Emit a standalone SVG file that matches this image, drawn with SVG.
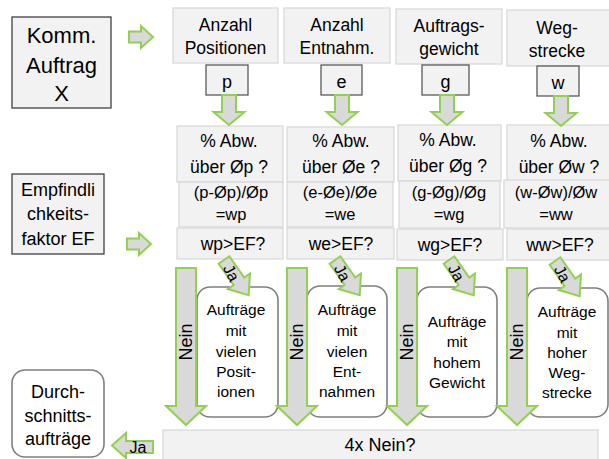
<svg xmlns="http://www.w3.org/2000/svg" width="609" height="459" viewBox="0 0 609 459">
<defs>
<style>
text{font-family:"Liberation Sans",Arial,sans-serif;fill:#000;text-anchor:middle}
.dark{fill:#f2f2f2;stroke:#404040;stroke-width:1.3}
.mid{fill:#f2f2f2;stroke:#595959;stroke-width:1.3}
.lite{fill:#f2f2f2;stroke:#d9d9d9;stroke-width:1.3}
.rnd{fill:#fff;stroke:#7f7f7f;stroke-width:1.6}
.arr{fill:#d9d9d9;stroke:#92d050;stroke-width:2;stroke-linejoin:miter}
.t17{font-size:17.5px}
.t16f{font-size:16.5px}
.t15{font-size:15.5px}
.t18{font-size:18px}
.t22{font-size:22px}
.t16{font-size:16px}
</style>
<path id="down" d="M-7,0 L7,0 L7,17 L15.5,17 L0,30 L-15.5,17 L-7,17 Z"/>
<path id="right" d="M0,-5.5 L12,-5.5 L12,-11 L24,0 L12,11 L12,5.5 L0,5.5 Z"/>
<path id="nein" d="M-10,0 L10,0 L10,138 L20,138 L0,157 L-20,138 L-10,138 Z"/>
<path id="ja" d="M0,-6.5 L26,-6.5 L26,-13.5 L43,0 L26,13.5 L26,6.5 L0,6.5 Z"/>
</defs>

<g id="komm">
<rect class="dark" x="12" y="17" width="99" height="91"/>
<text class="t22" x="61.5" y="43">Komm.</text>
<text class="t22" x="61.5" y="73">Auftrag</text>
<text class="t22" x="61.5" y="101">X</text>
</g>

<g id="empf">
<rect class="dark" x="12" y="174" width="92" height="80"/>
<text class="t18" x="58" y="196">Empfindli</text>
<text class="t18" x="58" y="220">chkeits-</text>
<text class="t18" x="58" y="245">faktor EF</text>
</g>

<g id="h-p">
<rect class="lite" x="173" y="8" width="105" height="55"/>
<text class="t17" x="225.5" y="31">Anzahl</text>
<text class="t17" x="225.5" y="54">Positionen</text>
</g>
<g id="h-e">
<rect class="lite" x="284" y="8" width="106" height="55"/>
<text class="t17" x="337" y="31">Anzahl</text>
<text class="t17" x="337" y="54">Entnahm.</text>
</g>
<g id="h-g">
<rect class="lite" x="396" y="9" width="106" height="55"/>
<text class="t17" x="449" y="32">Auftrags-</text>
<text class="t17" x="449" y="55">gewicht</text>
</g>
<g id="h-w">
<rect class="lite" x="507" y="10" width="106" height="56"/>
<text class="t17" x="557" y="34">Weg-</text>
<text class="t17" x="557" y="57">strecke</text>
</g>

<g id="v-p"><rect class="mid" x="206" y="65" width="42" height="30"/><text class="t18" x="227" y="88">p</text></g>
<g id="v-e"><rect class="mid" x="321" y="65" width="41" height="30"/><text class="t18" x="341.5" y="88">e</text></g>
<g id="v-g"><rect class="mid" x="422" y="65" width="47" height="30"/><text class="t18" x="445.5" y="88">g</text></g>
<g id="v-w"><rect class="mid" x="537" y="66" width="42" height="30"/><text class="t18" x="558" y="89">w</text></g>

<g id="abw-p"><rect class="lite" x="177" y="126" width="106" height="56"/><text class="t17" x="229" y="147">% Abw.</text><text class="t17" x="229" y="173">über Øp ?</text></g>
<g id="abw-e"><rect class="lite" x="287" y="127" width="107" height="55"/><text class="t17" x="341" y="147">% Abw.</text><text class="t17" x="341" y="173">über Øe ?</text></g>
<g id="abw-g"><rect class="lite" x="398" y="125" width="103" height="56"/><text class="t17" x="448" y="146">% Abw.</text><text class="t17" x="448" y="172">über Øg ?</text></g>
<g id="abw-w"><rect class="lite" x="507" y="125" width="106" height="57"/><text class="t17" x="559" y="147">% Abw.</text><text class="t17" x="559" y="173">über Øw ?</text></g>

<g id="f-p"><rect class="lite" x="179" y="182" width="104" height="45"/><text class="t16f" x="231" y="198">(p-Øp)/Øp</text><text class="t16f" x="231" y="220">=wp</text></g>
<g id="f-e"><rect class="lite" x="287" y="182" width="106" height="45"/><text class="t16f" x="340" y="198">(e-Øe)/Øe</text><text class="t16f" x="340" y="220">=we</text></g>
<g id="f-g"><rect class="lite" x="399" y="181" width="101" height="47"/><text class="t16f" x="449" y="198">(g-Øg)/Øg</text><text class="t16f" x="449" y="220">=wg</text></g>
<g id="f-w"><rect class="lite" x="504" y="180" width="109" height="48"/><text class="t16f" x="556" y="198">(w-Øw)/Øw</text><text class="t16f" x="556" y="220">=ww</text></g>

<g id="ef-p"><rect class="lite" x="177" y="228" width="106" height="31"/><text class="t17" x="233" y="250">wp&gt;EF?</text></g>
<g id="ef-e"><rect class="lite" x="287" y="228" width="107" height="31"/><text class="t17" x="341" y="250">we&gt;EF?</text></g>
<g id="ef-g"><rect class="lite" x="397" y="229" width="106" height="31"/><text class="t17" x="450" y="251">wg&gt;EF?</text></g>
<g id="ef-w"><rect class="lite" x="507" y="229" width="106" height="31"/><text class="t17" x="560" y="251">ww&gt;EF?</text></g>

<g id="r-p"><rect class="rnd" x="197" y="287" width="81" height="130" rx="13"/>
<text class="t15" x="236" y="315">Aufträge</text><text class="t15" x="236" y="336">mit</text><text class="t15" x="236" y="357">vielen</text><text class="t15" x="236" y="377">Posit-</text><text class="t15" x="236" y="397">ionen</text></g>
<g id="r-e"><rect class="rnd" x="307" y="286" width="80" height="131" rx="13"/>
<text class="t15" x="347" y="315">Aufträge</text><text class="t15" x="347" y="336">mit</text><text class="t15" x="347" y="357">vielen</text><text class="t15" x="347" y="377">Ent-</text><text class="t15" x="347" y="397">nahmen</text></g>
<g id="r-g"><rect class="rnd" x="417" y="287" width="80" height="130" rx="13"/>
<text class="t15" x="457" y="327">Aufträge</text><text class="t15" x="457" y="347">mit</text><text class="t15" x="457" y="368">hohem</text><text class="t15" x="457" y="388">Gewicht</text></g>
<g id="r-w"><rect class="rnd" x="527" y="288" width="81" height="129" rx="13"/>
<text class="t15" x="567" y="317">Aufträge</text><text class="t15" x="567" y="338">mit</text><text class="t15" x="567" y="358">hoher</text><text class="t15" x="567" y="378">Weg-</text><text class="t15" x="567" y="398">strecke</text></g>

<g id="durch"><rect class="rnd" x="12" y="370" width="92" height="87" rx="13"/>
<text class="t18" x="58" y="398">Durch-</text><text class="t18" x="58" y="422">schnitts-</text><text class="t18" x="58" y="445">aufträge</text></g>

<g id="nein4"><rect class="lite" x="163" y="430" width="435" height="40"/><text class="t18" x="380" y="451">4x Nein?</text></g>

<g id="connectors">
<use href="#right" class="arr" transform="translate(129,37)"/>
<use href="#right" class="arr" transform="translate(127,244)"/>
<use href="#down" class="arr" transform="translate(229,95)"/>
<use href="#down" class="arr" transform="translate(342,95)"/>
<use href="#down" class="arr" transform="translate(447,95)"/>
<use href="#down" class="arr" transform="translate(561,96)"/>

<use href="#nein" class="arr" transform="translate(186,268)"/>
<use href="#nein" class="arr" transform="translate(297,268)"/>
<use href="#nein" class="arr" transform="translate(407,268)"/>
<use href="#nein" class="arr" transform="translate(517,268)"/>
<text class="t18" transform="translate(192,342) rotate(-90)">Nein</text>
<text class="t18" transform="translate(303,342) rotate(-90)">Nein</text>
<text class="t18" transform="translate(413,342) rotate(-90)">Nein</text>
<text class="t18" transform="translate(523,342) rotate(-90)">Nein</text>

<use href="#ja" class="arr" transform="translate(224,260) rotate(55)"/>
<use href="#ja" class="arr" transform="translate(335,260) rotate(55)"/>
<use href="#ja" class="arr" transform="translate(449,260) rotate(55)"/>
<use href="#ja" class="arr" transform="translate(555,261) rotate(55)"/>
<text class="t16" transform="translate(231,273) rotate(62)" dy="5">Ja</text>
<text class="t16" transform="translate(342,273) rotate(62)" dy="5">Ja</text>
<text class="t16" transform="translate(456,273) rotate(62)" dy="5">Ja</text>
<text class="t16" transform="translate(562,274) rotate(62)" dy="5">Ja</text>

<path class="arr" d="M153,441 L126,441 L126,433 L112,445.5 L126,458 L126,453 L153,453 Z"/>
<text class="t16" x="138" y="453">Ja</text>
</g>
</svg>
